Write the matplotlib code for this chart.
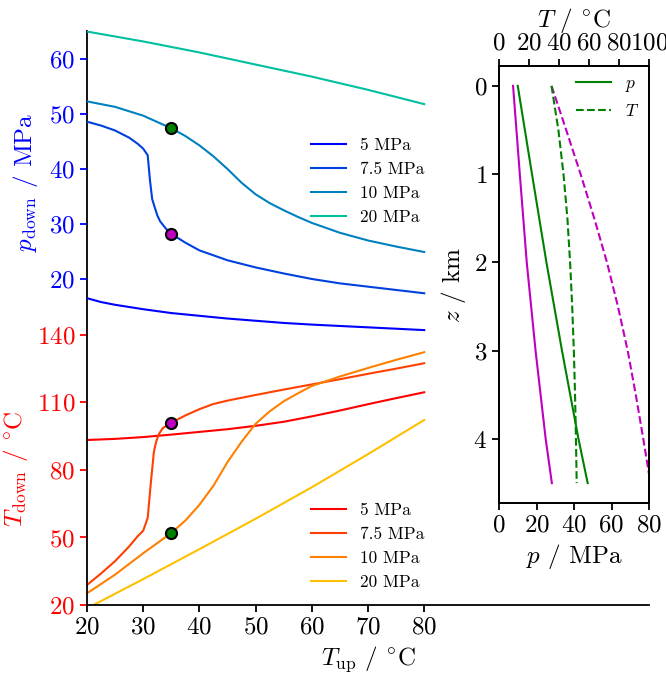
import numpy as np
import matplotlib.pyplot as plt

plt.rcParams['font.family'] = 'serif'
plt.rcParams['font.serif'] = ['cmr10']
plt.rcParams['mathtext.fontset'] = 'cm'
plt.rcParams['axes.formatter.use_mathtext'] = True
plt.rcParams['axes.unicode_minus'] = False

# --- data ---
labels = ['5 MPa', '7.5 MPa', '10 MPa', '20 MPa']

# downhole pressure vs upstream temperature
tup_p5 = [20, 22.5, 25, 30, 35, 40, 45, 50, 55, 60, 65, 70, 75, 80]
p_p5 = [16.5, 15.8, 15.3, 14.5, 13.8, 13.3, 12.8, 12.4, 12.0, 11.7, 11.45, 11.2, 10.95, 10.7]
tup_p75 = [20, 22.5, 25, 27.5, 29, 30, 30.8, 31.2, 31.6, 32, 32.5, 33, 34, 35, 37.5, 40,
           45, 50, 55, 60, 65, 70, 75, 80]
p_p75 = [48.6, 47.9, 47.0, 45.7, 44.6, 43.7, 42.5, 38.0, 34.5, 33.2, 31.6, 30.5, 29.2, 28.2,
         26.6, 25.2, 23.4, 22.1, 21.0, 20.0, 19.2, 18.6, 18.0, 17.4]
tup_p10 = [20, 25, 30, 35, 37.5, 40, 42.5, 45, 47.5, 50, 52.5, 55, 57.5, 60, 62.5, 65, 70, 75, 80]
p_p10 = [52.3, 51.3, 49.7, 47.4, 46.0, 44.3, 42.3, 40.0, 37.5, 35.4, 33.8, 32.5, 31.3, 30.2,
         29.3, 28.4, 27.0, 25.9, 24.9]
tup_p20 = [20, 30, 40, 50, 60, 70, 80]
p_p20 = [65.0, 63.2, 61.2, 59.0, 56.8, 54.4, 51.8]

# downhole temperature vs upstream temperature
tup_t5 = [20, 25, 30, 35, 40, 45, 50, 55, 60, 65, 70, 75, 80]
t_t5 = [93.3, 93.8, 94.6, 95.7, 96.9, 98.1, 99.6, 101.4, 103.8, 106.4, 109.2, 111.9, 114.5]
tup_t75 = [20, 22.5, 25, 27.5, 29, 30, 30.8, 31.35, 31.9, 32.3, 32.8, 33.5, 35, 37.5, 40,
           42.5, 45, 50, 55, 60, 65, 70, 75, 80]
t_t75 = [28.9, 34.0, 39.5, 46.0, 50.5, 53.0, 58.7, 74.0, 88.0, 92.5, 96.0, 98.6, 101.0, 104.2,
         107.0, 109.3, 110.8, 113.3, 115.7, 118.0, 120.3, 122.7, 125.0, 127.4]
tup_t10 = [20, 25, 30, 35, 37.5, 40, 42.5, 45, 47.5, 50, 52.5, 55, 57.5, 60, 65, 70, 75, 80]
t_t10 = [25.2, 33.5, 43.0, 52.0, 57.5, 64.5, 73.0, 83.5, 92.5, 100.5, 106.0, 110.5, 114.0,
         117.3, 121.5, 125.3, 128.9, 132.3]
tup_t20 = [20, 30, 40, 50, 60, 70, 80]
t_t20 = [18.5, 31.5, 44.8, 58.3, 72.3, 87.0, 102.2]

# highlighted cases at T_up = 35
dot_tup = 35
dot_p = {'green': 47.4, 'm': 28.2}
dot_t = {'green': 52.0, 'm': 101.0}

# well profiles
z_p = [0, 1, 2, 3, 4, 4.5]
p_green = [10.0, 17.6, 25.3, 33.6, 42.4, 47.3]
p_mag = [7.5, 11.1, 14.8, 19.5, 24.9, 28.2]
z_t = [0, 0.5, 1, 1.5, 2, 2.5, 3, 3.5, 4, 4.5]
t_green = [35, 39.6, 43.0, 45.6, 47.4, 48.8, 49.9, 50.7, 51.3, 51.8]
t_mag = [35, 44.8, 54.4, 63.5, 72.0, 79.3, 85.8, 91.2, 96.2, 101.0]

W, H = 666, 674
fig = plt.figure(figsize=(W / 100, H / 100), dpi=100)
tick_fs = 18
lab_fs = 18
leg_fs = 12.5
degc = r'$^{\circ}\mathrm{C}$'

ax = fig.add_axes([87 / W, 69 / H, 562 / W, 574 / H])
ax2 = ax.twinx()

pcols = plt.cm.winter(np.arange(4) / 4)
tcols = plt.cm.autumn(np.arange(4) / 4)

tlines = []
for x, y, c, l in zip([tup_t5, tup_t75, tup_t10, tup_t20], [t_t5, t_t75, t_t10, t_t20], tcols, labels):
    tlines += ax.plot(x, y, color=c, lw=1.5, label=l)
plines = []
for x, y, c, l in zip([tup_p5, tup_p75, tup_p10, tup_p20], [p_p5, p_p75, p_p10, p_p20], pcols, labels):
    plines += ax2.plot(x, y, color=c, lw=1.5, label=l)

for c in ['green', 'm']:
    ax.plot(dot_tup, dot_t[c], 'o', color=c, mec='k', ms=8, mew=1.5, zorder=5)
    ax2.plot(dot_tup, dot_p[c], 'o', color=c, mec='k', ms=8, mew=1.5, zorder=5)

ax.set_xlim(20, 120)
ax.set_xticks(np.arange(20, 81, 10))
ax.set_ylim(20, 275)
ax.set_yticks([20, 50, 80, 110, 140])
ax2.set_ylim(-39.3, 65.1)
ax2.set_yticks([20, 30, 40, 50, 60])
ax2.yaxis.tick_left()
ax2.yaxis.set_label_position('left')

for s in ['top', 'right']:
    ax.spines[s].set_visible(False)
for s in ax2.spines.values():
    s.set_visible(False)
for s in ['left', 'bottom']:
    ax.spines[s].set_linewidth(1.3)

ax.tick_params(axis='x', labelsize=tick_fs, width=1.3, length=5)
ax.tick_params(axis='y', labelsize=tick_fs, width=1.3, length=5, colors='r')
ax2.tick_params(axis='y', labelsize=tick_fs, width=1.3, length=5, colors='b')

ax.set_xlabel(r'$T_\mathrm{up}$ / ' + degc, fontsize=lab_fs)
ax.set_ylabel(r'$T_\mathrm{down}$ / ' + degc, fontsize=lab_fs, color='r')
ax2.set_ylabel(r'$p_\mathrm{down}$ / MPa', fontsize=lab_fs, color='b')
ax.yaxis.set_label_coords(-0.102, 0.237)
ax2.yaxis.set_label_coords(-0.083, 0.737)

fig.legend(handles=plines, loc='center left', bbox_to_anchor=(311 / W, 1 - 181.7 / H),
           frameon=False, fontsize=leg_fs, borderpad=0, borderaxespad=0)
fig.legend(handles=tlines, loc='center left', bbox_to_anchor=(311 / W, 1 - 546.3 / H),
           frameon=False, fontsize=leg_fs, borderpad=0, borderaxespad=0)

# inset with well profiles
axi = fig.add_axes([499 / W, 171 / H, 150 / W, 437 / H])
axt = axi.twiny()
lp = axi.plot(p_mag, z_p, color='m', lw=1.5)
lp += axi.plot(p_green, z_p, color='green', lw=1.5)
lt = axt.plot(t_mag, z_t, '--', color='m', lw=1.5)
lt += axt.plot(t_green, z_t, '--', color='green', lw=1.5)
axi.set_xlim(0, 80)
axi.set_xticks([0, 20, 40, 60, 80])
axt.set_xlim(0, 100)
axt.set_xticks([0, 20, 40, 60, 80, 100])
axi.set_yticks([0, 1, 2, 3, 4])
axi.invert_yaxis()
for a in (axi, axt):
    for s in a.spines.values():
        s.set_linewidth(1.3)
    a.tick_params(labelsize=tick_fs, width=1.3, length=5)
axi.set_xlabel(r'$p$ / MPa', fontsize=lab_fs)
axt.set_xlabel(r'$T$ / ' + degc, fontsize=lab_fs)
axi.set_ylabel(r'$z$ / km', fontsize=lab_fs)
axt.legend([lp[1], lt[1]], [r'$p$', r'$T$'], loc='center left',
           bbox_to_anchor=(576 / W, 1 - 97.5 / H), bbox_transform=fig.transFigure,
           frameon=False, fontsize=leg_fs, borderpad=0, borderaxespad=0)

fig.savefig('out.png', dpi=100)
